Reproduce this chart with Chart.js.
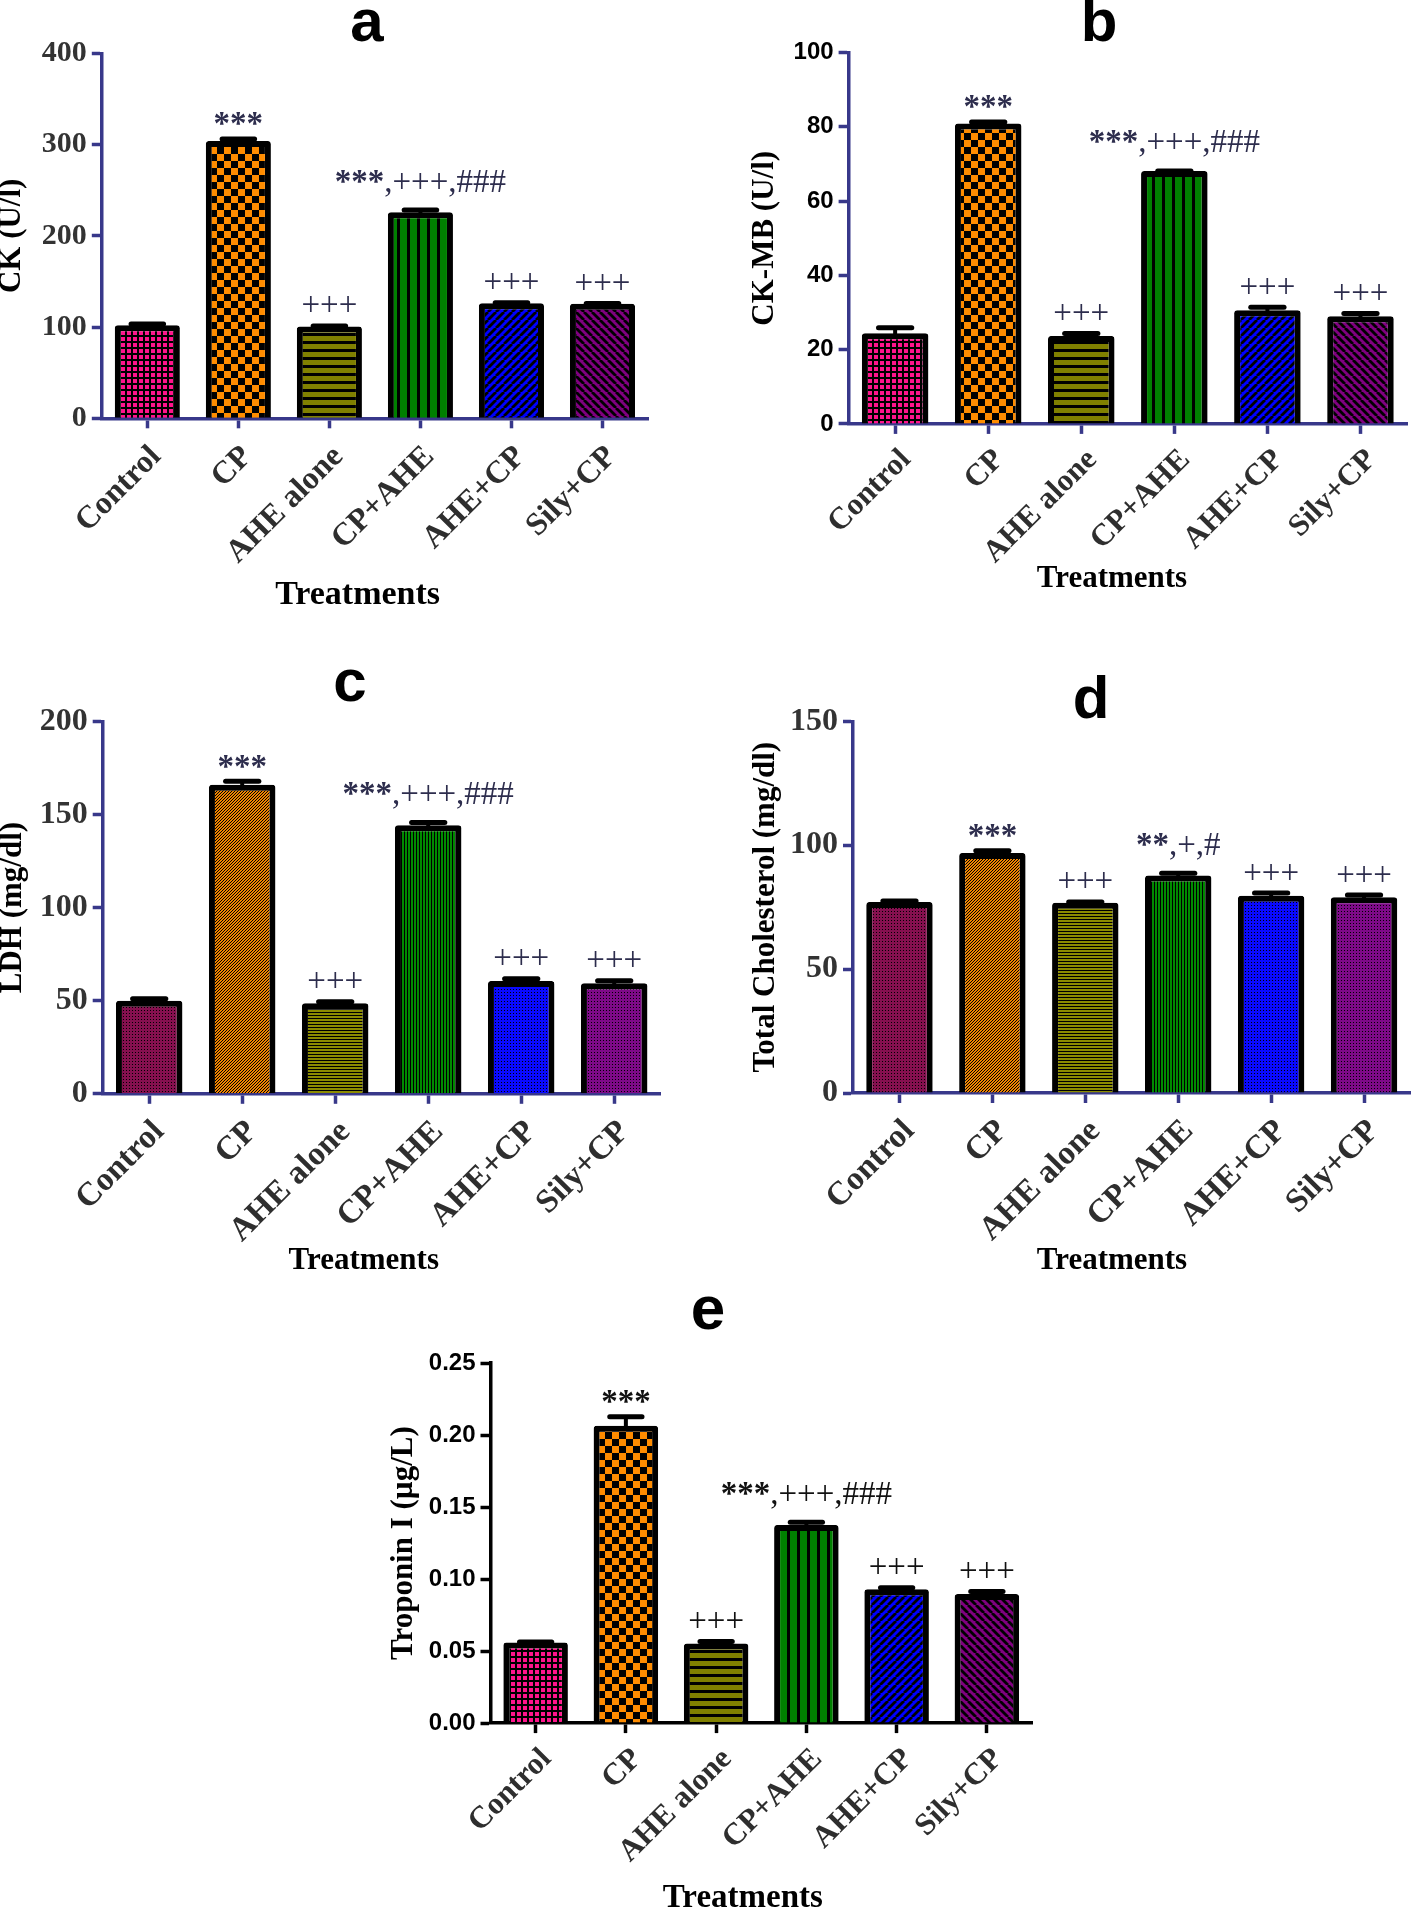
<!DOCTYPE html>
<html><head><meta charset="utf-8">
<script src="https://cdn.jsdelivr.net/npm/chart.js@4.4.0/dist/chart.umd.min.js"></script>
<style>
html,body{margin:0;padding:0;background:#fff;}
body{position:relative;width:1411px;height:1909px;overflow:hidden;}
canvas{position:absolute;}
</style></head><body>
<canvas id="pa"></canvas><canvas id="pb"></canvas><canvas id="pc"></canvas><canvas id="pd"></canvas><canvas id="pe"></canvas>
<script>
// ---------- data ----------
const categories = ['Control', 'CP', 'AHE alone', 'CP+AHE', 'AHE+CP', 'Sily+CP'];

const ckValues = [102, 304, 100.5, 226, 126, 125.5];
const ckErrors = [4, 5, 3.5, 5, 3.5, 3];
const ckNotes  = ['', '***', '+++', '***,+++,###', '+++', '+++'];
const ckTicks  = [0, 100, 200, 300, 400];

const ckmbValues = [24.4, 80.9, 23.7, 68.1, 30.6, 29];
const ckmbErrors = [2.2, 1.1, 1.3, 0.7, 1.5, 1.4];
const ckmbNotes  = ['', '***', '+++', '***,+++,###', '+++', '+++'];
const ckmbTicks  = [0, 20, 40, 60, 80, 100];

const ldhValues = [49.9, 166, 48.6, 144.2, 60.6, 59.3];
const ldhErrors = [2.5, 3.2, 2.2, 2.8, 2.5, 2.7];
const ldhNotes  = ['', '***', '+++', '***,+++,###', '+++', '+++'];
const ldhTicks  = [0, 50, 100, 150, 200];

const cholValues = [77.1, 96.9, 76.8, 87.8, 79.6, 79];
const cholErrors = [1.4, 1.9, 1.3, 1.9, 2.1, 1.9];
const cholNotes  = ['', '***', '+++', '**,+,#', '+++', '+++'];
const cholTicks  = [0, 50, 100, 150];

const tropValues = [0.056, 0.2065, 0.0553, 0.1376, 0.0929, 0.0896];
const tropErrors = [0.002, 0.008, 0.003, 0.0035, 0.0028, 0.0035];
const tropNotes  = ['', '***', '+++', '***,+++,###', '+++', '+++'];
const tropTicks  = [0, 0.05, 0.10, 0.15, 0.20, 0.25];

// ---------- styles ----------
const SERIF = "'Liberation Serif','Times New Roman',serif";
const SANS = "'Liberation Sans',Arial,sans-serif";
const NAVY = '#38388a';
const patternKinds = ['control', 'cp', 'ahe', 'cpahe', 'aheCp', 'sily'];

function makePattern(ctx, kind, fine) {
  const c = document.createElement('canvas');
  const g = c.getContext('2d');
  if (!fine) {
    if (kind === 'control') { c.width = c.height = 6; g.fillStyle = '#000'; g.fillRect(0,0,6,6); g.fillStyle = '#ff148c'; g.fillRect(1,1,4,4); }
    else if (kind === 'cp') { c.width = c.height = 14; g.fillStyle = '#ff8c00'; g.fillRect(0,0,14,14); g.fillStyle = '#000'; g.fillRect(0,0,7,7); g.fillRect(7,7,7,7); }
    else if (kind === 'ahe') { c.width = c.height = 8; g.fillStyle = '#808000'; g.fillRect(0,0,8,8); g.fillStyle = '#000'; g.fillRect(0,5,8,3); }
    else if (kind === 'cpahe') { c.width = c.height = 10; g.fillStyle = '#008000'; g.fillRect(0,0,10,10); g.fillStyle = '#000'; g.fillRect(7,0,3,10); }
    else if (kind === 'aheCp' || kind === 'sily') {
      c.width = c.height = 8;
      g.fillStyle = kind === 'aheCp' ? '#0000ff' : '#800080'; g.fillRect(0,0,8,8);
      g.strokeStyle = '#000'; g.lineWidth = 2.8;
      for (const o of [-8, 0, 8]) {
        g.beginPath();
        if (kind === 'aheCp') { g.moveTo(o, 8); g.lineTo(o + 8, 0); }
        else { g.moveTo(o, 0); g.lineTo(o + 8, 8); }
        g.stroke();
      }
    }
  } else {
    c.width = c.height = 3;
    const base = {control:'#86104f', cp:'#f08400', ahe:'#8c8c00', cpahe:'#008a00', aheCp:'#0a0aff', sily:'#7e0a88'}[kind];
    g.fillStyle = base; g.fillRect(0,0,3,3); g.fillStyle = '#000';
    if (kind === 'ahe') g.fillRect(0,2,3,1);
    else if (kind === 'cpahe') g.fillRect(2,0,1,3);
    else if (kind === 'cp') { g.fillRect(0,0,1,1); g.fillRect(2,1,1,1); g.fillRect(1,2,1,1); }
    else g.fillRect(0,0,1,1);
  }
  return ctx.createPattern(c, 'repeat');
}

function drawNote(ctx, text, cx, capTop, size, color) {
  const parts = [...text].map(ch => ({ch, font: (ch === '*' ? 'bold ' : '') + size + 'px ' + SERIF}));
  let total = 0, desc = -Infinity;
  for (const p of parts) {
    ctx.font = p.font;
    const m = ctx.measureText(p.ch);
    p.w = m.width; total += p.w;
    desc = Math.max(desc, m.actualBoundingBoxDescent);
  }
  const base = capTop - 11 - desc;
  let x = cx - total / 2;
  ctx.fillStyle = color; ctx.textAlign = 'left'; ctx.textBaseline = 'alphabetic';
  for (const p of parts) { ctx.font = p.font; ctx.fillText(p.ch, x, base); x += p.w; }
}

function makePanel(cfg) {
  const cv = document.getElementById(cfg.id);
  const B = cfg.box, A = cfg.area;
  cv.width = B.w; cv.height = B.h;
  cv.style.left = B.x + 'px'; cv.style.top = B.y + 'px';
  cv.style.width = B.w + 'px'; cv.style.height = B.h + 'px';
  const ctx = cv.getContext('2d');
  const axisColor = cfg.axisColor;
  const yWidth = A.l - B.x, xHeight = B.y + B.h - A.b;
  const fills = patternKinds.map(k => makePattern(ctx, k, cfg.fine));

  const extras = {
    id: 'extras' + cfg.id,
    afterDatasetsDraw(chart) {
      const c = chart.ctx, ys = chart.scales.y;
      const meta = chart.getDatasetMeta(0);
      c.save();
      meta.data.forEach((bar, i) => {
        const v = cfg.values[i], e = cfg.errors[i];
        const yTop = ys.getPixelForValue(v), yE = ys.getPixelForValue(v + e);
        const half = bar.width * 0.25;
        c.strokeStyle = '#000';
        c.lineWidth = 4; c.lineCap = 'butt';
        c.beginPath(); c.moveTo(bar.x, yTop + 3); c.lineTo(bar.x, yE + 2.5); c.stroke();
        c.lineWidth = 5; c.lineCap = 'round';
        c.beginPath(); c.moveTo(bar.x - half, yE + 2.5); c.lineTo(bar.x + half, yE + 2.5); c.stroke();
        if (cfg.notes[i]) drawNote(c, cfg.notes[i], bar.x, yE, cfg.noteSize, cfg.noteColor);
      });
      c.restore();
    },
    afterDraw(chart) {
      const c = chart.ctx;
      c.save();
      c.fillStyle = '#000'; c.textAlign = 'center'; c.textBaseline = 'alphabetic';
      c.font = 'bold ' + cfg.letter.size + 'px ' + SANS;
      c.fillText(cfg.letter.text, cfg.letter.x - B.x, cfg.letter.y - B.y);
      c.textBaseline = 'middle';
      c.font = 'bold ' + cfg.xTitle.size + 'px ' + SERIF;
      c.fillText(cfg.xTitle.text, cfg.xTitle.x - B.x, cfg.xTitle.y - B.y);
      c.restore();
    }
  };

  new Chart(cv, {
    type: 'bar',
    data: {
      labels: categories,
      datasets: [{
        data: cfg.values,
        backgroundColor: fills,
        borderColor: '#000',
        borderWidth: 6,
        borderRadius: 3,
        borderSkipped: 'start',
        barPercentage: 0.715,
        categoryPercentage: 1
      }]
    },
    options: {
      responsive: false,
      animation: false,
      devicePixelRatio: 1,
      layout: { padding: { top: A.t - B.y, right: B.x + B.w - A.r, left: 0, bottom: 0 } },
      plugins: { legend: { display: false }, tooltip: { enabled: false }, title: { display: false } },
      scales: {
        x: {
          offset: true,
          grid: { display: true, drawOnChartArea: false, drawTicks: true, tickLength: 10, tickWidth: 3.5, tickColor: axisColor, offset: false },
          border: { display: true, color: axisColor, width: 3.5 },
          ticks: {
            minRotation: 45, maxRotation: 45, autoSkip: false, padding: cfg.xPad, labelOffset: cfg.xShift,
            color: '#2e2e2e', font: { family: SERIF, weight: 'bold', size: cfg.catSize }
          },
          afterFit: s => { s.height = xHeight; }
        },
        y: {
          min: cfg.ticks[0], max: cfg.ticks[cfg.ticks.length - 1],
          afterBuildTicks: s => { s.ticks = cfg.ticks.map(v => ({ value: v })); },
          grid: { display: true, drawOnChartArea: false, drawTicks: true, tickLength: 10, tickWidth: 3.5, tickColor: axisColor },
          border: { display: true, color: axisColor, width: 3.5 },
          ticks: {
            padding: 5, color: cfg.yTickColor,
            font: { family: cfg.yTickFamily, weight: 'bold', size: cfg.yTickSize },
            callback: v => cfg.decimals ? Number(v).toFixed(cfg.decimals) : String(v)
          },
          title: {
            display: true, text: cfg.yTitle, color: '#000',
            font: { family: SERIF, weight: 'bold', size: 31, lineHeight: 0.7 },
            padding: { top: cfg.yTitleX - B.x - 10.85, bottom: 0 }
          },
          afterFit: s => { s.width = yWidth; }
        }
      }
    },
    plugins: [extras]
  });
}

makePanel({
  id: 'pa', box: {x: 0, y: 0, w: 700, h: 640}, area: {l: 101.8, r: 648, t: 53.4, b: 418.3},
  values: ckValues, errors: ckErrors, notes: ckNotes, ticks: ckTicks,
  fine: false, axisColor: NAVY, yTickColor: '#333', yTickFamily: SERIF, yTickSize: 30, decimals: 0,
  yTitle: 'CK (U/l)', yTitleX: 12, catSize: 32, xPad: 10, xShift: 9,
  noteSize: 33, noteColor: '#2d2d4d',
  letter: {text: 'a', x: 367, y: 41, size: 60},
  xTitle: {text: 'Treatments', x: 357.6, y: 595, size: 34}
});
makePanel({
  id: 'pb', box: {x: 705, y: 0, w: 706, h: 640}, area: {l: 848.6, r: 1407, t: 52.6, b: 423.9},
  values: ckmbValues, errors: ckmbErrors, notes: ckmbNotes, ticks: ckmbTicks,
  fine: false, axisColor: NAVY, yTickColor: '#000', yTickFamily: SANS, yTickSize: 24, decimals: 0,
  yTitle: 'CK-MB (U/l)', yTitleX: 765, catSize: 31, xPad: 8, xShift: 11,
  noteSize: 33, noteColor: '#2d2d4d',
  letter: {text: 'b', x: 1099, y: 41, size: 60},
  xTitle: {text: 'Treatments', x: 1112, y: 579, size: 31}
});
makePanel({
  id: 'pc', box: {x: 0, y: 650, w: 705, h: 630}, area: {l: 102.7, r: 660.7, t: 721.3, b: 1093.8},
  values: ldhValues, errors: ldhErrors, notes: ldhNotes, ticks: ldhTicks,
  fine: true, axisColor: NAVY, yTickColor: '#333', yTickFamily: SERIF, yTickSize: 32, decimals: 0,
  yTitle: 'LDH (mg/dl)', yTitleX: 13.4, catSize: 33, xPad: 9, xShift: 10,
  noteSize: 33, noteColor: '#2d2d4d',
  letter: {text: 'c', x: 350, y: 701, size: 60},
  xTitle: {text: 'Treatments', x: 363.8, y: 1261, size: 31}
});
makePanel({
  id: 'pd', box: {x: 705, y: 650, w: 706, h: 630}, area: {l: 853, r: 1410.5, t: 721.3, b: 1093},
  values: cholValues, errors: cholErrors, notes: cholNotes, ticks: cholTicks,
  fine: true, axisColor: NAVY, yTickColor: '#333', yTickFamily: SERIF, yTickSize: 32, decimals: 0,
  yTitle: 'Total Cholesterol (mg/dl)', yTitleX: 766, catSize: 33, xPad: 9, xShift: 10,
  noteSize: 33, noteColor: '#2d2d4d',
  letter: {text: 'd', x: 1091, y: 718, size: 60},
  xTitle: {text: 'Treatments', x: 1112, y: 1261, size: 31}
});
makePanel({
  id: 'pe', box: {x: 360, y: 1285, w: 720, h: 624}, area: {l: 490.5, r: 1032, t: 1363, b: 1723.1},
  values: tropValues, errors: tropErrors, notes: tropNotes, ticks: tropTicks,
  fine: false, axisColor: '#000', yTickColor: '#000', yTickFamily: SANS, yTickSize: 24, decimals: 2,
  yTitle: 'Troponin I (µg/L)', yTitleX: 403.5, catSize: 31, xPad: 8, xShift: 11,
  noteSize: 33, noteColor: '#111',
  letter: {text: 'e', x: 708, y: 1329, size: 62},
  xTitle: {text: 'Treatments', x: 742.8, y: 1898, size: 33}
});
</script>
</body></html>
